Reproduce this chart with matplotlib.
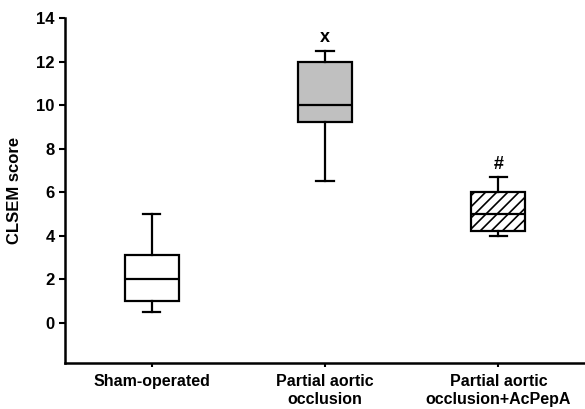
import matplotlib
matplotlib.use("Agg")
import matplotlib.pyplot as plt

plt.rcParams['font.family'] = 'Liberation Sans'
plt.rcParams['font.weight'] = 'bold'
plt.rcParams['hatch.linewidth'] = 1.2

groups = ['Sham-operated', 'Partial aortic\nocclusion', 'Partial aortic\nocclusion+AcPepA']
whisk_low = [0.5, 6.5, 4.0]
q1 = [1.0, 9.2, 4.2]
median = [2.0, 10.0, 5.0]
q3 = [3.1, 12.0, 6.0]
whisk_high = [5.0, 12.5, 6.7]
marks = ['', 'x', '#']
faces = ['white', '#c0c0c0', 'white']
hatches = [None, None, '///']

stats = []
for i in range(len(groups)):
    stats.append({'whislo': whisk_low[i], 'q1': q1[i], 'med': median[i],
                  'q3': q3[i], 'whishi': whisk_high[i], 'fliers': []})

fig = plt.figure(figsize=(5.85, 4.09), dpi=100)
ax = fig.add_axes([65 / 585, 1 - 363 / 409, 520 / 585, 345 / 409])

lw = 1.6
bp = ax.bxp(stats, positions=range(len(groups)), widths=0.31,
            patch_artist=True, showfliers=False,
            boxprops=dict(linewidth=lw, edgecolor='black'),
            medianprops=dict(color='black', linewidth=lw),
            whiskerprops=dict(color='black', linewidth=lw),
            capprops=dict(color='black', linewidth=lw), capwidths=0.1)
for box, fc, h in zip(bp['boxes'], faces, hatches):
    box.set_facecolor(fc)
    if h:
        box.set_hatch(h)

for i, m in enumerate(marks):
    if m:
        ax.text(i, whisk_high[i] + 0.2, m, ha='center', va='bottom',
                fontsize=13, fontweight='bold')

ax.set_xlim(-0.5, 2.5)
ax.set_ylim(-1.85, 14)
ax.set_yticks(range(0, 15, 2))
ax.set_xticks(range(len(groups)))
ax.set_xticklabels(groups, fontsize=11.5, fontweight='bold', linespacing=1.2)
ax.tick_params(axis='y', labelsize=12, width=1.5, length=4)
ax.tick_params(axis='x', width=1.5, length=3, pad=5)
ax.set_ylabel('CLSEM score', fontsize=12, fontweight='bold', labelpad=10)
for s in ['top', 'right']:
    ax.spines[s].set_visible(False)
for s in ['left', 'bottom']:
    ax.spines[s].set_linewidth(1.8)

fig.savefig('out.png', dpi=100)
